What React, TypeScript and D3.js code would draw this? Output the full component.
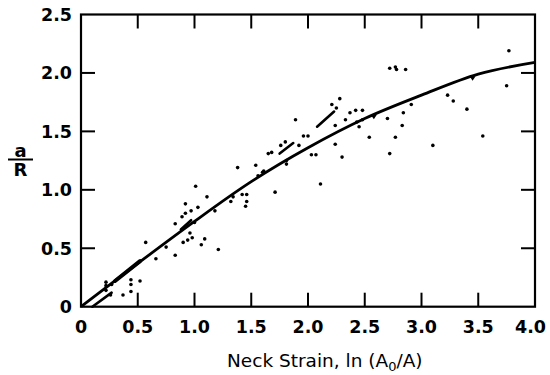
import React from "react";
import * as d3 from "d3";

// Fitted curve
const curveX = [0, 0.5, 1.0, 1.5, 2.0, 2.5, 3.0, 3.5, 4.0];
const curveY = [0, 0.37, 0.73, 1.07, 1.36, 1.61, 1.81, 1.99, 2.09];

// Scatter points
const pointX = [
  0.22, 0.22, 0.22, 0.27, 0.26, 0.37, 0.44, 0.44, 0.44, 0.52,
  0.57, 0.66, 0.75, 0.83, 0.83, 0.89, 0.92, 0.97, 0.92, 1.01, 1.03, 1.11, 1.0, 0.96, 0.98, 0.94, 0.9, 1.09, 1.06, 1.21, 1.18,
  1.32, 1.34, 1.42, 1.46, 1.46, 1.45, 1.38, 1.54, 1.56, 1.60, 1.61, 1.71, 1.65, 1.68, 1.81, 1.81, 1.76, 1.80, 1.89, 1.92, 1.96, 2.0,
  2.03, 2.07, 2.11, 2.21, 2.25, 2.28, 2.33, 2.37, 2.42, 2.48, 2.43, 2.48, 2.45, 2.24, 2.30, 2.24,
  2.54, 2.70, 2.72, 2.77, 2.83, 2.84, 2.91, 2.72, 2.77, 2.78, 2.86, 3.10, 3.23, 3.28, 3.40, 3.54, 3.75, 3.77,
];
const pointY = [
  0.21, 0.18, 0.14, 0.19, 0.10, 0.10, 0.23, 0.19, 0.13, 0.22,
  0.55, 0.41, 0.51, 0.44, 0.71, 0.77, 0.80, 0.82, 0.88, 1.03, 0.85, 0.94, 0.72, 0.63, 0.59, 0.57, 0.55, 0.58, 0.53, 0.49, 0.82,
  0.90, 0.94, 0.96, 0.96, 0.90, 0.86, 1.19, 1.21, 1.12, 1.15, 1.16, 0.98, 1.31, 1.32, 1.25, 1.22, 1.38, 1.41, 1.60, 1.38, 1.46, 1.46,
  1.30, 1.30, 1.05, 1.73, 1.70, 1.78, 1.60, 1.66, 1.68, 1.68, 1.58, 1.60, 1.54, 1.39, 1.28, 1.55,
  1.45, 1.61, 1.31, 1.45, 1.55, 1.66, 1.73, 2.04, 2.05, 2.03, 2.03, 1.38, 1.81, 1.76, 1.69, 1.46, 1.89, 2.19,
];

// Short dense streaks of data
const streakX1 = [0.10, 0.30, 0.88, 1.75, 2.08];
const streakY1 = [0.0, 0.22, 0.66, 1.31, 1.54];
const streakX2 = [0.27, 0.52, 0.97, 1.87, 2.23];
const streakY2 = [0.12, 0.39, 0.74, 1.40, 1.67];

// Small triangular marks on the curve
const markX = [2.58, 3.45];

const xTicks = [0, 0.5, 1.0, 1.5, 2.0, 2.5, 3.0, 3.5, 4.0];
const xTickLabels = ["0", "0.5", "1.0", "1.5", "2.0", "2.5", "3.0", "3.5", "4.0"];
const yTicks = [0, 0.5, 1.0, 1.5, 2.0, 2.5];
const yTickLabels = ["0", "0.5", "1.0", "1.5", "2.0", "2.5"];

export default function App() {
  const W = 550, H = 375;
  const x = d3.scaleLinear().domain([0, 4]).range([81, 535]);
  const y = d3.scaleLinear().domain([0, 2.5]).range([306.7, 14.5]);
  const curveData = curveX.map((v, i) => [v, curveY[i]] as [number, number]);
  const line = d3
    .line<[number, number]>()
    .x((d) => x(d[0]))
    .y((d) => y(d[1]))
    .curve(d3.curveMonotoneX);
  const interp = (v: number) => {
    for (let i = 0; i < curveX.length - 1; i++) {
      if (v >= curveX[i] && v <= curveX[i + 1]) {
        const t = (v - curveX[i]) / (curveX[i + 1] - curveX[i]);
        return curveY[i] + t * (curveY[i + 1] - curveY[i]);
      }
    }
    return 0;
  };
  const font = "'DejaVu Sans', sans-serif";
  const tickLen = 14;
  const inner = xTicks.slice(1, -1);
  const innerY = yTicks.slice(1, -1);
  return (
    <svg
      width={W}
      height={H}
      style={{ position: "absolute", left: 0, top: 0, background: "#fff" }}
    >
      <rect x={0} y={0} width={W} height={H} fill="#fff" />
      {/* frame */}
      <rect
        x={x(0)}
        y={y(2.5)}
        width={x(4) - x(0)}
        height={y(0) - y(2.5)}
        fill="none"
        stroke="#000"
        strokeWidth={2.2}
      />
      {inner.map((t) => (
        <g key={"xt" + t}>
          <line x1={x(t)} x2={x(t)} y1={y(0)} y2={y(0) - tickLen} stroke="#000" strokeWidth={2} />
          <line x1={x(t)} x2={x(t)} y1={y(2.5)} y2={y(2.5) + tickLen} stroke="#000" strokeWidth={2} />
        </g>
      ))}
      {innerY.map((t) => (
        <g key={"yt" + t}>
          <line x1={x(0)} x2={x(0) + tickLen} y1={y(t)} y2={y(t)} stroke="#000" strokeWidth={2} />
          <line x1={x(4)} x2={x(4) - tickLen} y1={y(t)} y2={y(t)} stroke="#000" strokeWidth={2} />
        </g>
      ))}
      {/* tick labels */}
      {xTicks.map((t, i) => (
        <text
          key={"xl" + t}
          x={i === xTicks.length - 1 ? 546 : x(t)}
          y={333}
          textAnchor={i === xTicks.length - 1 ? "end" : "middle"}
          fontFamily={font}
          fontWeight="bold"
          fontSize={17.5}
        >
          {xTickLabels[i]}
        </text>
      ))}
      {yTicks.map((t, i) => (
        <text
          key={"yl" + t}
          x={72}
          y={y(t)}
          dy="0.36em"
          textAnchor="end"
          fontFamily={font}
          fontWeight="bold"
          fontSize={17.5}
        >
          {yTickLabels[i]}
        </text>
      ))}
      {/* axis title */}
      <text x={227} y={367} fontFamily={font} fontSize={18.5}>
        Neck Strain, ln (A
        <tspan dy={4} fontSize={13}>0</tspan>
        <tspan dy={-4}>/A)</tspan>
      </text>
      {/* y label a/R */}
      <text x={20.5} y={157} textAnchor="middle" fontFamily={font} fontWeight="bold" fontSize={18}>
        a
      </text>
      <line x1={8} x2={33} y1={159.5} y2={159.5} stroke="#000" strokeWidth={2} />
      <text x={20.5} y={176} textAnchor="middle" fontFamily={font} fontWeight="bold" fontSize={18}>
        R
      </text>
      {/* curve */}
      <path d={line(curveData) || ""} fill="none" stroke="#000" strokeWidth={2.8} />
      {/* streaks */}
      {streakX1.map((v, i) => (
        <line
          key={"s" + i}
          x1={x(v)}
          y1={y(streakY1[i])}
          x2={x(streakX2[i])}
          y2={y(streakY2[i])}
          stroke="#000"
          strokeWidth={i === 1 ? 4 : 2.6}
          strokeLinecap="round"
        />
      ))}
      {/* marks on curve */}
      {markX.map((v, i) => {
        const cx = x(v), cy = y(interp(v));
        return (
          <path
            key={"m" + i}
            d={`M${cx - 3},${cy} L${cx + 3},${cy} L${cx},${cy + 4.5} Z`}
            fill="#000"
          />
        );
      })}
      {/* scatter */}
      {pointX.map((v, i) => (
        <circle key={"p" + i} cx={x(v)} cy={y(pointY[i])} r={1.8} fill="#000" />
      ))}
    </svg>
  );
}
